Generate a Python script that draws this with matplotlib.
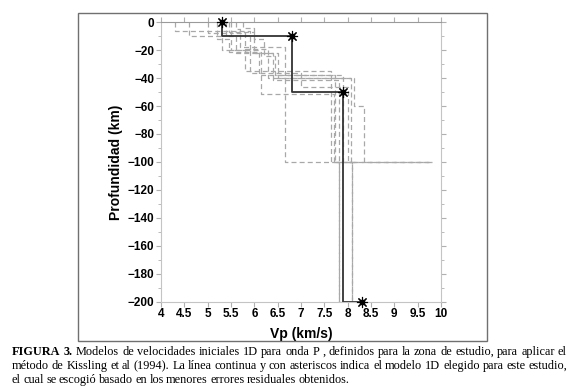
"""
Modelos de velocidades iniciales 1D para onda P (figura 3).
"""

import matplotlib
matplotlib.use("Agg")
import matplotlib.pyplot as plt
from matplotlib.patches import Rectangle
from matplotlib.ticker import MultipleLocator

# Modelo elegido: profundidad de techo de capa (km) y Vp (km/s)
depth_best = [0, 10, 50, 200]
vp_best = [5.3, 6.8, 7.9, 8.3]

# Modelos iniciales (lineas discontinuas)
depths_init = [
    [0, 6, 20, 35, 100],
    [0, 8, 20, 38, 100, 200],
    [0, 10, 22, 40, 100, 200],
    [0, 5, 18, 100, 200],
    [0, 12, 21, 51, 100],
    [0, 8, 19, 40, 60, 100],
    [0, 7, 22, 41, 100, 200],
    [0, 10, 20, 36, 46, 100],
    [0, 4, 12, 24, 38, 100],
]
vps_init = [
    [4.3, 5.9, 5.8, 7.65, 9.8],
    [5.0, 5.5, 6.1, 7.73, 7.81, 8.1],
    [5.4, 5.6, 6.5, 8.07, 8.1, 8.3],
    [5.6, 5.7, 6.66, 7.81, 8.1],
    [5.2, 5.45, 6.15, 7.7, 9.8],
    [5.5, 5.8, 6.3, 8.14, 8.35, 9.8],
    [5.45, 6.0, 6.4, 7.81, 8.1, 8.3],
    [4.6, 5.3, 5.9, 7.0, 8.0, 8.2],
    [5.75, 6.0, 6.2, 6.45, 7.9, 8.2],
]

x_ticks = [4, 4.5, 5, 5.5, 6, 6.5, 7, 7.5, 8, 8.5, 9, 9.5, 10]
x_labels = ["4", "4.5", "5", "5.5", "6", "6.5", "7", "7.5", "8", "8.5", "9", "9.5", "10"]
y_ticks = list(range(0, -201, -20))

caption = [
    "FIGURA 3. Modelos de velocidades iniciales 1D para onda P , definidos para la zona de estudio, para aplicar el",
    "método de Kissling et al (1994). La línea continua y con asteriscos indica el modelo 1D  elegido para este estudio,",
    "el cual se escogió basado en los menores errores residuales obtenidos.",
]


def step_xy(depths, vps):
    """Convierte capas en puntos de la linea escalonada."""
    xs, ys = [vps[0]], [-depths[0]]
    for i in range(1, len(depths)):
        xs += [vps[i - 1], vps[i]]
        ys += [-depths[i], -depths[i]]
    return xs, ys


def justify(fig, words, y, x0, x1, size, bold_words=0, last=False):
    """Coloca las palabras de una linea justificada."""
    renderer = fig.canvas.get_renderer()
    texts = []
    for i, w in enumerate(words):
        t = fig.text(0, y, w, fontsize=size, family="Liberation Serif",
                     weight="bold" if i < bold_words else "normal", va="center")
        texts.append(t)
    widths = [t.get_window_extent(renderer).width / fig.dpi / fig.get_figwidth() for t in texts]
    space = 2.4 / 580
    if not last and len(words) > 1:
        space = (x1 - x0 - sum(widths)) / (len(words) - 1)
    x = x0
    for t, w in zip(texts, widths):
        t.set_x(x)
        x += w + space


fig = plt.figure(figsize=(5.8, 3.88), dpi=100)
ax = fig.add_axes([0.2776, 0.2229, 0.4828, 0.7196])

for d, v in zip(depths_init, vps_init):
    xs, ys = step_xy(d, v)
    ax.plot(xs, ys, color="#a8a8a8", linewidth=0.9, linestyle=(0, (4, 2.5)))

xs, ys = step_xy(depth_best, vp_best)
ax.plot(xs, ys, color="#333333", linewidth=1.3)
neg_best = [-d for d in depth_best]
ax.plot(vp_best, neg_best, linestyle="none", marker=(8, 2, 0), markersize=8,
        color="black", markeredgewidth=0.8, clip_on=False, zorder=5)
ax.plot(vp_best, neg_best, linestyle="none", marker="s", markersize=3.5, color="black",
        clip_on=False, zorder=5)

ax.set_xlim(4, 10)
ax.set_ylim(-200, 0)
ax.set_xticks(x_ticks)
ax.set_xticklabels(x_labels)
ax.set_yticks(y_ticks)
ax.yaxis.set_minor_locator(MultipleLocator(10))
ax.tick_params(which="both", direction="out", color="#b0b0b0", length=3.5,
               top=True, right=True, labeltop=False, labelright=False,
               labelsize=8.5, pad=1.5)
ax.tick_params(which="minor", length=2.5)
for lab in ax.get_xticklabels() + ax.get_yticklabels():
    lab.set_fontweight("bold")
    lab.set_family("Liberation Sans")
for side in ["left", "right", "bottom"]:
    ax.spines[side].set_color("#c4c4c4")
ax.spines["top"].set_color("#9a9a9a")

ax.set_xlabel("Vp (km/s)", fontsize=10, fontweight="bold", family="Liberation Sans", labelpad=5)
ax.set_ylabel("Profundidad (km)", fontsize=10, fontweight="bold", family="Liberation Sans", labelpad=3)

# Marco exterior de la figura
fig.patches.append(Rectangle((0.134, 0.1211), 0.7057, 0.8462, transform=fig.transFigure,
                             fill=False, edgecolor="#707070", linewidth=1))

fig.canvas.draw()
line_y = [1 - 352 / 388, 1 - 366 / 388, 1 - 380 / 388]
for i, (line, y) in enumerate(zip(caption, line_y)):
    justify(fig, line.split(), y, 12 / 580, 567 / 580, 8.8,
            bold_words=2 if i == 0 else 0, last=(i == 2))

plt.savefig("out.png", dpi=100)
